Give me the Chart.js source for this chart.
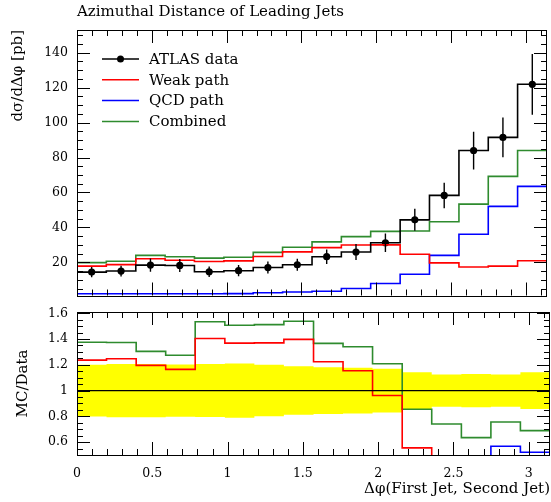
<!DOCTYPE html>
<html>
<head>
<meta charset="utf-8">
<script src="https://cdn.jsdelivr.net/npm/chart.js@4/dist/chart.umd.min.js"></script>
<style>
  html, body { margin: 0; padding: 0; background: #fff; }
  #wrap { position: relative; width: 551px; height: 502px; overflow: hidden; }
  #wrap canvas { position: absolute; left: 0; }
  #main { top: 0; }
  #ratio { top: 290px; }
</style>
</head>
<body>
<div id="wrap">
  <canvas id="main" width="551" height="312"></canvas>
  <canvas id="ratio" width="551" height="212"></canvas>
</div>
<script>
// Bin edges in delta phi (16 bins from 0 to pi)
const binEdges = [0, 0.196, 0.393, 0.589, 0.785, 0.982, 1.178, 1.374, 1.571,
                  1.767, 1.963, 2.160, 2.356, 2.553, 2.749, 2.945, 3.1416];

// ATLAS data and its uncertainty [pb]
const atlasData = [14.4, 15.0, 18.4, 18.2, 14.6, 15.2, 17.0, 18.6,
                   23.2, 25.9, 31.2, 44.3, 58.3, 84.0, 91.5, 121.9];
const atlasErr  = [2.9, 3.1, 3.8, 3.7, 3.0, 3.2, 3.4, 3.5,
                   4.2, 4.6, 5.3, 6.3, 7.3, 10.8, 11.4, 17.4];

// MC predictions [pb]
const weakPath = [17.8, 18.7, 22.0, 21.2, 20.5, 20.8, 23.3, 26.0,
                  28.4, 29.9, 30.0, 24.6, 19.7, 17.3, 17.8, 20.9];
const qcdPath  = [2.0, 2.0, 2.0, 2.0, 2.0, 2.1, 2.6, 3.0,
                  3.4, 5.0, 7.9, 13.2, 24.0, 36.1, 52.0, 63.5];
const combined = [19.8, 20.6, 24.0, 23.2, 22.4, 22.9, 25.7, 28.6,
                  31.7, 34.7, 37.7, 37.9, 43.2, 53.3, 69.2, 84.0];

// Tick labels
const xTicks = [0, 0.5, 1, 1.5, 2, 2.5, 3];
const xTickLabels = ['0', '0.5', '1', '1.5', '2', '2.5', '3'];
const yTicksMain = [20, 40, 60, 80, 100, 120, 140];
const yTickLabelsMain = ['20', '40', '60', '80', '100', '120', '140'];
const yTicksRatio = [0.6, 0.8, 1, 1.2, 1.4, 1.6];
const yTickLabelsRatio = ['0.6', '0.8', '1', '1.2', '1.4', '1.6'];

const FONT = 'DejaVu Serif';
const xMax = binEdges[binEdges.length - 1];

Chart.defaults.font.family = FONT;
Chart.defaults.color = '#000';

// histogram as step line: one point per lower edge, plus the last edge
function steps(vals) {
    return binEdges.map((x, i) => ({ x: x, y: vals[Math.min(i, vals.length - 1)] }));
}
function ratioTo(vals) {
    return vals.map((v, i) => v / atlasData[i]);
}
const binCentres = atlasData.map((_, i) => (binEdges[i] + binEdges[i + 1]) / 2);

// frame with inward ticks on all four sides
const frameTicks = {
    id: 'frameTicks',
    afterDatasetsDraw(chart, args, opts) {
        const { ctx, chartArea: a, scales } = chart;
        const xs = scales.x, ys = scales.y;
        ctx.save();
        ctx.strokeStyle = '#000';
        ctx.lineWidth = 1;
        ctx.beginPath();
        for (let i = 0; i <= 31; i++) {
            const px = Math.round(xs.getPixelForValue(i / 10)) + 0.5;
            const len = i % 5 === 0 ? 13 : 6;
            ctx.moveTo(px, a.top); ctx.lineTo(px, a.top + len);
            ctx.moveTo(px, a.bottom); ctx.lineTo(px, a.bottom - len);
        }
        for (let i = 0; ; i++) {
            const v = opts.yStart + i * opts.yMinor;
            if (v > ys.max + 1e-9) break;
            if (v < ys.min - 1e-9) continue;
            const py = Math.round(ys.getPixelForValue(v)) + 0.5;
            const major = Math.abs(v / opts.yMajor - Math.round(v / opts.yMajor)) < 1e-6;
            const len = major ? 13 : 6;
            ctx.moveTo(a.left, py); ctx.lineTo(a.left + len, py);
            ctx.moveTo(a.right, py); ctx.lineTo(a.right - len, py);
        }
        ctx.stroke();
        ctx.strokeRect(Math.round(a.left) + 0.5, Math.round(a.top) + 0.5,
                       Math.round(a.right - a.left) - 1, Math.round(a.bottom - a.top));
        ctx.restore();
    }
};

// vertical error bars on the data points
const errorBars = {
    id: 'errorBars',
    afterDatasetsDraw(chart) {
        const { ctx, scales: { x, y } } = chart;
        ctx.save();
        ctx.strokeStyle = '#000';
        ctx.lineWidth = 1.4;
        ctx.beginPath();
        atlasData.forEach((v, i) => {
            const cx = x.getPixelForValue(binCentres[i]);
            ctx.moveTo(cx, y.getPixelForValue(v - atlasErr[i]));
            ctx.lineTo(cx, y.getPixelForValue(v + atlasErr[i]));
        });
        ctx.stroke();
        ctx.restore();
    }
};

// legend drawn inside the plot area
const innerLegend = {
    id: 'innerLegend',
    afterDraw(chart, args, opts) {
        const ctx = chart.ctx;
        ctx.save();
        ctx.font = '15px "' + FONT + '"';
        ctx.textBaseline = 'middle';
        opts.items.forEach((idx, row) => {
            const ds = chart.data.datasets[idx];
            const y = opts.top + row * opts.gap;
            ctx.strokeStyle = ds.borderColor;
            ctx.lineWidth = 1.5;
            ctx.beginPath();
            ctx.moveTo(opts.x0, y);
            ctx.lineTo(opts.x1, y);
            ctx.stroke();
            if (row === 0) {
                ctx.fillStyle = '#000';
                ctx.beginPath();
                ctx.arc((opts.x0 + opts.x1) / 2, y, 3.5, 0, Math.PI * 2);
                ctx.fill();
            }
            ctx.fillStyle = '#000';
            ctx.fillText(ds.label, opts.textX, y + 1);
        });
        ctx.restore();
    }
};

// stepped 'before' = horizontal at the bin value, then vertical at the next edge
function histLine(label, color, vals, width) {
    return {
        label: label, data: steps(vals), borderColor: color, backgroundColor: color,
        borderWidth: width, stepped: 'before', pointRadius: 0, fill: false
    };
}

const mainChart = new Chart(document.getElementById('main'), {
    type: 'line',
    data: {
        datasets: [
            histLine('ATLAS data', '#000000', atlasData, 1.6),
            histLine('Weak path', '#ff0000', weakPath, 1.6),
            histLine('QCD path', '#0000ff', qcdPath, 1.6),
            histLine('Combined', '#2e8b2e', combined, 1.6),
            {
                label: 'points', data: atlasData.map((v, i) => ({ x: binCentres[i], y: v })),
                showLine: false, pointRadius: 3.6, pointBackgroundColor: '#000',
                pointBorderWidth: 0, borderColor: '#000'
            }
        ]
    },
    options: {
        responsive: false,
        animation: false,
        events: [],
        layout: { padding: { top: 0, right: 1, bottom: 0, left: 0 } },
        plugins: {
            legend: { display: false },
            tooltip: { enabled: false },
            title: {
                display: true, text: 'Azimuthal Distance of Leading Jets', align: 'start',
                fullSize: false, color: '#000', font: { size: 15, weight: 'normal' },
                padding: { top: 3, bottom: 9 }
            },
            frameTicks: { yStart: 0, yMinor: 5, yMajor: 20 },
            innerLegend: { items: [0, 1, 2, 3], x0: 102, x1: 139, textX: 149, top: 59, gap: 20.8 }
        },
        scales: {
            x: { type: 'linear', min: 0, max: xMax, display: false },
            y: {
                type: 'linear', min: 1, max: 153,
                afterFit(s) { s.width = 77; },
                afterBuildTicks(s) { s.ticks = yTicksMain.map(v => ({ value: v })); },
                grid: { display: false, drawTicks: false },
                border: { display: false },
                ticks: {
                    padding: 9, color: '#000', font: { size: 12.5 },
                    callback: (v) => yTickLabelsMain[yTicksMain.indexOf(v)]
                },
                title: {
                    display: true, text: 'dσ/dΔφ [pb]', align: 'end', color: '#000',
                    font: { size: 15 }, padding: { top: 9, bottom: 0 }
                }
            }
        }
    },
    plugins: [frameTicks, errorBars, innerLegend]
});

const bandUp = atlasData.map((v, i) => 1 + atlasErr[i] / v);
const bandDown = atlasData.map((v, i) => 1 - atlasErr[i] / v);

const ratioChart = new Chart(document.getElementById('ratio'), {
    type: 'line',
    data: {
        datasets: [
            histLine('ATLAS data', '#000000', ratioTo(atlasData), 1.2),
            histLine('Weak path', '#ff0000', ratioTo(weakPath), 1.6),
            histLine('QCD path', '#0000ff', ratioTo(qcdPath), 1.6),
            histLine('Combined', '#2e8b2e', ratioTo(combined), 1.6),
            {
                label: 'band up', data: steps(bandUp), stepped: 'before', borderWidth: 0,
                pointRadius: 0, fill: '+1', backgroundColor: '#ffff00', borderColor: '#ffff00'
            },
            {
                label: 'band down', data: steps(bandDown), stepped: 'before', borderWidth: 0,
                pointRadius: 0, fill: false, borderColor: '#ffff00'
            }
        ]
    },
    options: {
        responsive: false,
        animation: false,
        events: [],
        layout: { padding: { top: 22, right: 1, bottom: 0, left: 0 } },
        plugins: {
            legend: { display: false },
            tooltip: { enabled: false },
            frameTicks: { yStart: 0.5, yMinor: 0.05, yMajor: 0.2 }
        },
        scales: {
            x: {
                type: 'linear', min: 0, max: xMax,
                afterFit(s) { s.height = 47; },
                afterBuildTicks(s) { s.ticks = xTicks.map(v => ({ value: v })); },
                grid: { display: false, drawTicks: false },
                border: { display: false },
                ticks: {
                    padding: 11, color: '#000', font: { size: 12.5 }, autoSkip: false, maxRotation: 0,
                    callback: (v) => xTickLabels[xTicks.indexOf(v)]
                },
                title: {
                    display: true, text: 'Δφ(First Jet, Second Jet)', align: 'end', color: '#000',
                    font: { size: 15 }, padding: { top: 0, bottom: 4 }
                }
            },
            y: {
                type: 'linear', min: 0.5, max: 1.61,
                afterFit(s) { s.width = 77; },
                afterBuildTicks(s) { s.ticks = yTicksRatio.map(v => ({ value: v })); },
                grid: { display: false, drawTicks: false },
                border: { display: false },
                ticks: {
                    padding: 9, color: '#000', font: { size: 12.5 },
                    callback: (v) => yTickLabelsRatio[yTicksRatio.indexOf(v)]
                },
                title: {
                    display: true, text: 'MC/Data', align: 'center', color: '#000',
                    font: { size: 15 }, padding: { top: 14, bottom: 0 }
                }
            }
        }
    },
    plugins: [frameTicks]
});
</script>
</body>
</html>
